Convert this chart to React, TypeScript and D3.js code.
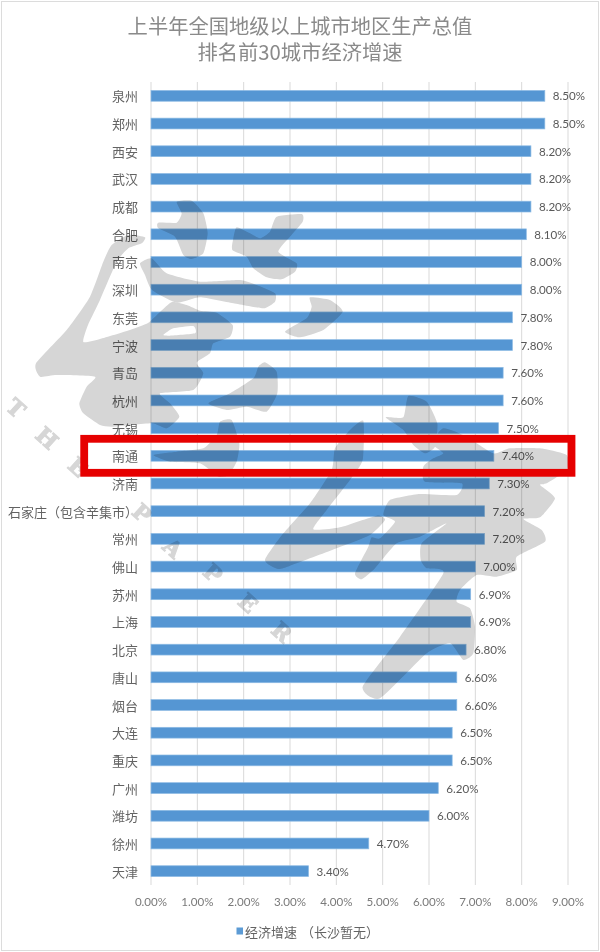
import React from "react";
import * as d3 from "d3";

const cities = ["泉州","郑州","西安","武汉","成都","合肥","南京","深圳","东莞","宁波","青岛","杭州","无锡","南通","济南","石家庄（包含辛集市）","常州","佛山","苏州","上海","北京","唐山","烟台","大连","重庆","广州","潍坊","徐州","天津"];
const growth = [8.5,8.5,8.2,8.2,8.2,8.1,8.0,8.0,7.8,7.8,7.6,7.6,7.5,7.4,7.3,7.2,7.2,7.0,6.9,6.9,6.8,6.6,6.6,6.5,6.5,6.2,6.0,4.7,3.4];
const xTicks = [0,1,2,3,4,5,6,7,8,9];
const titleLines = ["上半年全国地级以上城市地区生产总值","排名前30城市经济增速"];
const highlighted = "南通";

const W = 600, H = 952;
const x = d3.scaleLinear().domain([0, 9]).range([151, 568]);
const y = d3.scaleBand<string>().domain(cities).range([82, 885]).paddingInner(0.61).paddingOuter(0.305);
const pct = (v: number) => v.toFixed(2) + "%";

const CJK = "'Noto Sans CJK SC','Noto Sans',sans-serif";
const NUM = "Lato,'Open Sans',sans-serif";

// Watermark outlines (decorative brush strokes), traced in 1/3-pixel units from an origin.
type Brush = { o: [number, number]; pts: [number, number][]; holes?: [number, number][][] };
const brushes: Brush[] = [
  { o: [150, 190], pts: [[80,35],[125,32],[160,70],[173,130],[160,190],[125,207],[100,195],[75,140],[25,115],[25,98],[80,98],[95,70]] },
  { o: [150, 190], pts: [[260,112],[300,130],[330,145],[360,125],[380,80],[455,72],[458,95],[420,140],[385,185],[440,220],[435,245],[395,268],[350,262],[310,235],[290,200],[247,180],[250,145]] },
  { o: [0, 190],
    pts: [[335,165],[385,135],[435,142],[425,160],[385,175],[350,216],[300,330],[264,405],[250,456],[300,447],[390,420],[444,399],[480,366],[516,336],[560,345],[600,362],[650,368],[698,405],[690,440],[640,460],[630,490],[590,518],[610,550],[580,600],[480,610],[510,640],[538,680],[500,715],[455,700],[340,710],[300,705],[250,670],[238,640],[260,590],[285,560],[170,555],[120,560],[108,520],[200,420],[270,320],[310,215]],
    holes: [[[490,435],[520,415],[580,408],[585,430],[510,437]]] },
  { o: [0, 190], pts: [[420,220],[455,205],[500,250],[600,275],[720,270],[770,285],[825,310],[825,335],[790,355],[700,340],[600,322],[530,338],[456,300],[435,255]] },
  { o: [150, 190], pts: [[345,517],[380,545],[382,610],[350,665],[290,650],[230,660],[175,640],[240,610],[310,565],[325,530]] },
  { o: [150, 190], pts: [[480,322],[540,330],[578,365],[520,420],[450,442],[405,425],[470,385],[485,350]] },
  { o: [150, 420], pts: [[210,5],[245,0],[268,70],[260,125],[235,165],[205,170],[150,130],[60,125],[10,105],[80,95],[160,85],[200,45]] },
  { o: [150, 420], pts: [[640,3],[638,120],[600,180],[530,270],[490,328],[570,322],[680,287],[705,300],[660,345],[560,385],[440,430],[385,447],[345,420],[400,340],[480,250],[545,150],[555,85],[600,30]] },
  { o: [150, 190], pts: [[775,618],[830,635],[862,700],[855,770],[825,790],[790,765],[760,720],[707,682],[760,682]] },
  { o: [300, 420], pts: [[430,25],[500,50],[580,100],[630,85],[720,85],[800,105],[800,150],[740,190],[720,195],[765,235],[720,292],[670,297],[725,330],[735,365],[650,410],[650,450],[590,470],[530,465],[480,510],[470,545],[510,565],[525,620],[520,700],[490,720],[450,670],[380,700],[240,835],[188,800],[300,650],[430,460],[380,445],[362,420],[365,370],[440,310],[360,350],[290,370],[225,445],[185,478],[165,460],[205,380],[215,352],[240,355],[285,305],[250,285],[270,240],[360,222],[470,225],[485,190],[375,185],[370,140],[400,115],[430,100],[395,70]] },
];
const brushLine = d3.line().curve(d3.curveCardinalClosed.tension(0.45));
const brushPath = (b: Brush) =>
  [b.pts, ...(b.holes || [])]
    .map((r) => brushLine(r.map(([a, c]) => [b.o[0] + a / 3, b.o[1] + c / 3] as [number, number])))
    .join("");

const wmLetters: [string, number, number][] = [
  ["T", 16, 408],["H", 47, 438],["E", 78, 467],["P", 142, 513],["A", 173, 548],["P", 213, 573],["E", 248, 603],["R", 282, 632],
];

export default function App() {
  const band = y.bandwidth();
  const hy = (y(highlighted) as number) + band / 2;
  return (
    <svg width={W} height={H} viewBox={`0 0 ${W} ${H}`} style={{ position: "absolute", left: 0, top: 0, display: "block" }}>
      <defs>
        <filter id="soft" x="0" y="0" width="100%" height="100%">
          <feGaussianBlur stdDeviation="0.35" />
        </filter>
      </defs>
      <rect width={W} height={H} fill="#fff" />
      <g filter="url(#soft)">
        <rect x={1} y={1} width={W - 2} height={H - 2} fill="none" stroke="#dcdcdc" strokeWidth={2} />

        <g fontFamily={CJK} fontSize={20.3} fill="#8a8a8a" textAnchor="middle">
          {titleLines.map((t, i) => (
            <text key={t} x={300} y={25 + i * 26} dominantBaseline="central">{t}</text>
          ))}
        </g>

        {xTicks.map((t) => (
          <g key={t}>
            <line x1={x(t)} x2={x(t)} y1={82} y2={885} stroke="#d9d9d9" strokeWidth={1} />
            <text x={x(t)} y={901} textAnchor="middle" dominantBaseline="central" fontFamily={NUM} fontSize={11.6} fill="#7a7a7a">{pct(t)}</text>
          </g>
        ))}

        {cities.map((c, i) => {
          const cy = (y(c) as number) + band / 2;
          return (
            <g key={c}>
              <rect x={x(0)} y={y(c)} width={x(growth[i]) - x(0)} height={band} fill="#5596d3" stroke="#8dbbe4" strokeWidth={0.7} />
              <text x={138} y={cy} textAnchor="end" dominantBaseline="central" fontFamily={CJK} fontSize={13} fill="#636363">{c}</text>
              <text x={x(growth[i]) + 8} y={cy} dominantBaseline="central" fontFamily={NUM} fontSize={11.6} fill="#595959">{pct(growth[i])}</text>
            </g>
          );
        })}

        <rect x={236.5} y={927.5} width={6.5} height={7} fill="#5b9bd5" />
        <g fontFamily={CJK} fontSize={13} fill="#636363" dominantBaseline="central">
          <text x={245} y={931}>经济增速</text>
          <text x={301} y={931}>（长沙暂无）</text>
        </g>

        <g style={{ mixBlendMode: "multiply" }}>
          {brushes.map((b, i) => (
            <path key={i} d={brushPath(b)} fill="#d6d6d6" fillRule="evenodd" />
          ))}
          {wmLetters.map(([l, lx, ly], i) => (
            <text key={i} x={lx} y={ly} textAnchor="middle" dominantBaseline="central" fontFamily="'DejaVu Serif','Liberation Serif',serif" fontWeight={700} fontSize={22} fill="#d6d6d6" stroke="#d6d6d6" strokeWidth={1} transform={`rotate(42 ${lx} ${ly})`}>{l}</text>
          ))}
        </g>

        <rect x={84.2} y={hy - 17} width={487.3} height={34} fill="none" stroke="#e60000" strokeWidth={7.8} />
      </g>
    </svg>
  );
}
